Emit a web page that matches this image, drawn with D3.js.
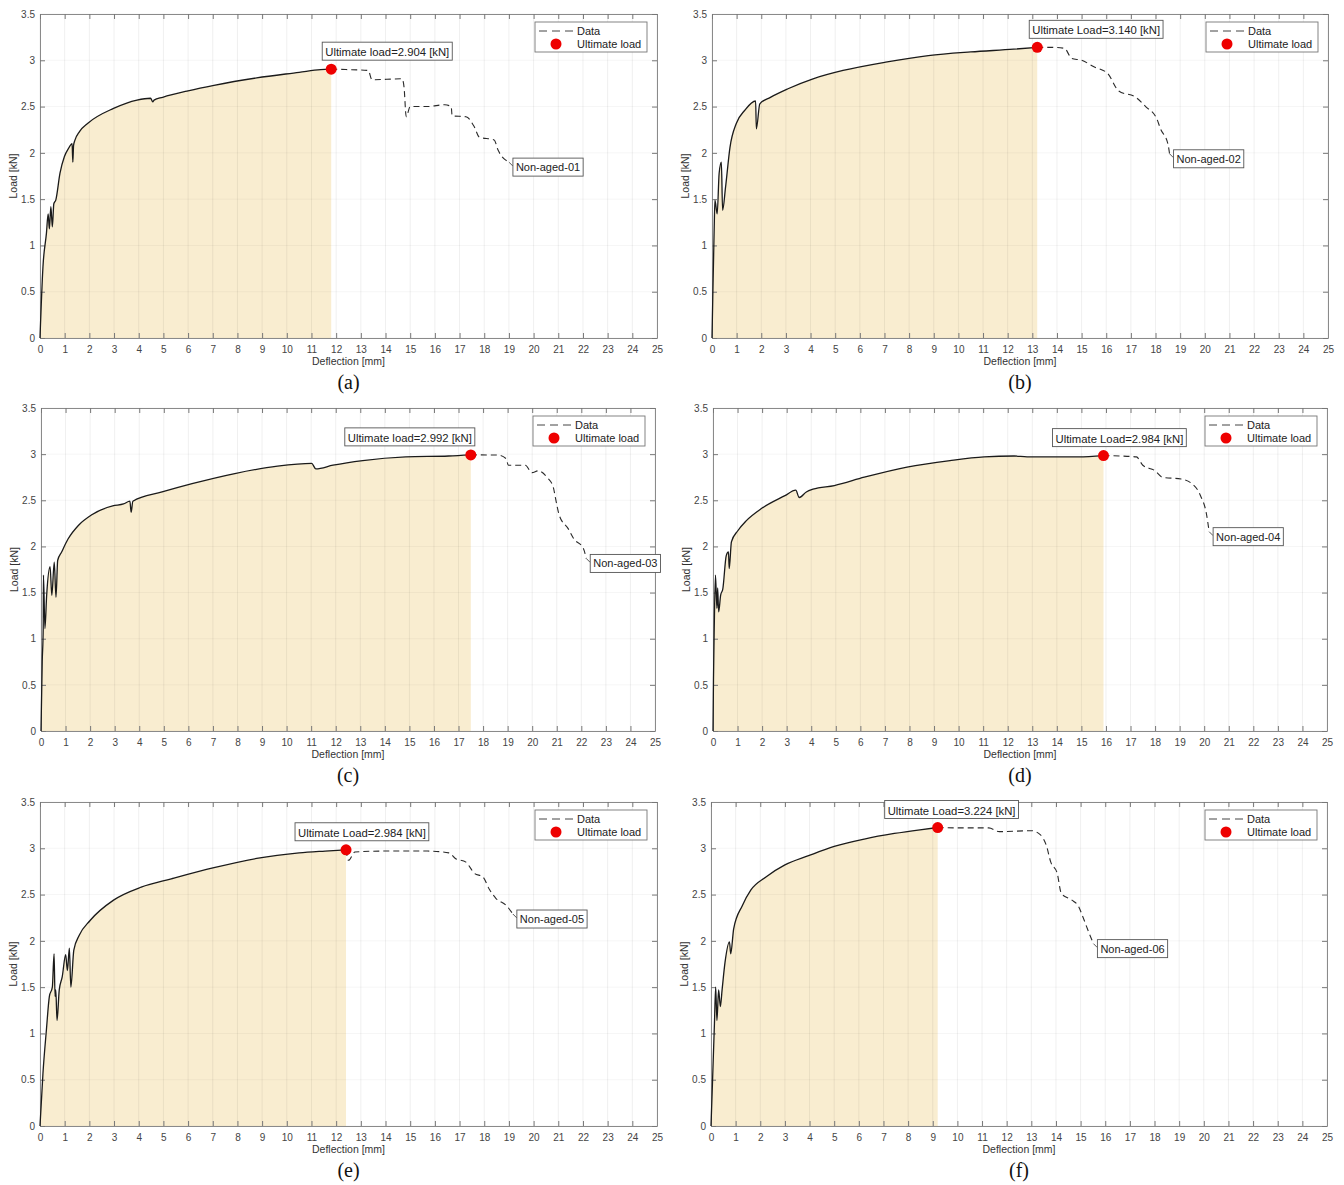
<!DOCTYPE html>
<html><head><meta charset="utf-8">
<script src="https://cdn.jsdelivr.net/npm/d3@7"></script>
<style>body{margin:0;background:#fff}svg{display:block}</style>
</head><body>
<script>
// ---------------- DATA ----------------
const panelLetters = ["(a)", "(b)", "(c)", "(d)", "(e)", "(f)"];
const specimenNames = ["Non-aged-01", "Non-aged-02", "Non-aged-03", "Non-aged-04", "Non-aged-05", "Non-aged-06"];
const ultimateDeflection = [11.8, 13.2, 17.5, 15.9, 12.4, 9.2];
const ultimateLoad = [2.904, 3.140, 2.992, 2.984, 2.984, 3.224];
const ultimateLabels = ["Ultimate load=2.904 [kN]", "Ultimate Load=3.140 [kN]", "Ultimate load=2.992 [kN]",
                        "Ultimate Load=2.984 [kN]", "Ultimate Load=2.984 [kN]", "Ultimate Load=3.224 [kN]"];
const xTickLabels = ["0","1","2","3","4","5","6","7","8","9","10","11","12","13","14","15","16","17","18","19","20","21","22","23","24","25"];
const yTickLabels = ["0","0.5","1","1.5","2","2.5","3","3.5"];
const legendLabels = ["Data", "Ultimate load"];

const deflection01 = [0, 0.12, 0.26, 0.33, 0.38, 0.44, 0.5, 0.56, 0.64, 0.81, 0.99, 1.16, 1.3, 1.33, 1.36, 1.42, 1.6, 1.94, 2.98, 3.93, 4.48, 4.57, 4.62, 4.97, 6.0, 7.05, 8.78, 10.5, 11.37, 11.8,
  12.4, 13.3, 13.45, 14.67, 14.75, 14.84, 15.0, 15.7, 16.4, 16.66, 16.7, 17.26, 17.6, 17.8, 18.4, 18.56, 19.0];
const load01 = [0, 0.77, 1.13, 1.34, 1.18, 1.42, 1.2, 1.45, 1.49, 1.78, 1.96, 2.05, 2.1, 1.9, 2.08, 2.14, 2.23, 2.32, 2.48, 2.57, 2.59, 2.55, 2.57, 2.6, 2.67, 2.73, 2.81, 2.87, 2.9, 2.904,
  2.9, 2.89, 2.79, 2.8, 2.71, 2.39, 2.5, 2.5, 2.52, 2.5, 2.4, 2.39, 2.28, 2.17, 2.14, 2.03, 1.9];

const deflection02 = [0, 0.03, 0.09, 0.12, 0.21, 0.29, 0.38, 0.43, 0.55, 0.73, 0.99, 1.33, 1.77, 1.8, 1.94, 2.37, 3.06, 4.1, 5.32, 7.05, 8.78, 10.5, 12.24, 13.2,
  13.8, 14.3, 14.6, 15.0, 15.5, 16.05, 16.5, 17.2, 17.6, 18.05, 18.2, 18.5, 18.57];
const load02 = [0, 0.41, 1.2, 1.49, 1.34, 1.78, 1.9, 1.38, 1.63, 2.06, 2.32, 2.46, 2.56, 2.26, 2.53, 2.6, 2.69, 2.8, 2.89, 2.98, 3.05, 3.09, 3.12, 3.14,
  3.14, 3.13, 3.02, 3.0, 2.93, 2.86, 2.67, 2.6, 2.5, 2.37, 2.26, 2.1, 1.99];

const deflection03 = [0, 0.05, 0.09, 0.1, 0.16, 0.23, 0.37, 0.44, 0.54, 0.61, 0.68, 0.84, 1.1, 1.53, 2.05, 2.92, 3.36, 3.62, 3.67, 3.74, 4.93, 6.15, 7.89, 9.63, 11.02, 11.19, 11.89, 13.1, 14.85, 16.6, 17.5,
  18.6, 18.94, 19.03, 19.72, 19.99, 20.25, 20.6, 20.86, 20.95, 21.1, 21.47, 21.7, 22.08, 22.2];
const load03 = [0, 0.75, 1.11, 1.69, 1.11, 1.47, 1.78, 1.47, 1.83, 1.45, 1.85, 1.94, 2.08, 2.23, 2.34, 2.44, 2.46, 2.49, 2.37, 2.49, 2.59, 2.68, 2.79, 2.87, 2.9, 2.84, 2.88, 2.93, 2.97, 2.98, 2.992,
  2.99, 2.95, 2.88, 2.88, 2.8, 2.82, 2.75, 2.64, 2.52, 2.34, 2.19, 2.08, 1.98, 1.87];

const deflection04 = [0, 0.02, 0.05, 0.1, 0.16, 0.19, 0.23, 0.31, 0.4, 0.54, 0.63, 0.66, 0.75, 1.01, 1.36, 1.97, 2.93, 3.37, 3.51, 3.8, 4.07, 4.94, 6.16, 7.9, 9.65, 11.04, 12.26, 12.79, 14.88, 15.9,
  16.6, 17.24, 17.5, 18.0, 18.3, 19.06, 19.5, 19.85, 20.1, 20.2];
const load04 = [0, 0.57, 1.11, 1.69, 1.33, 1.55, 1.29, 1.47, 1.54, 1.9, 1.94, 1.76, 2.05, 2.17, 2.28, 2.41, 2.55, 2.61, 2.53, 2.59, 2.62, 2.66, 2.75, 2.86, 2.93, 2.97, 2.98, 2.97, 2.97, 2.984,
  2.98, 2.97, 2.88, 2.82, 2.75, 2.73, 2.68, 2.55, 2.34, 2.16];

const deflection05 = [0, 0.12, 0.26, 0.38, 0.5, 0.57, 0.61, 0.64, 0.69, 0.78, 0.9, 1.04, 1.11, 1.19, 1.25, 1.37, 1.59, 2.03, 2.98, 4.1, 5.32, 7.05, 8.78, 10.5, 11.55, 12.4,
  12.5, 12.76, 13.97, 15.7, 16.57, 16.83, 17.26, 17.6, 17.95, 18.2, 18.47, 18.9, 19.16];
const load05 = [0, 0.57, 1.04, 1.4, 1.5, 1.86, 1.4, 1.47, 1.14, 1.47, 1.61, 1.85, 1.68, 1.92, 1.5, 1.9, 2.06, 2.22, 2.44, 2.58, 2.67, 2.79, 2.89, 2.95, 2.97, 2.984,
  2.87, 2.96, 2.97, 2.97, 2.95, 2.89, 2.85, 2.73, 2.69, 2.56, 2.46, 2.38, 2.29];

const deflection06 = [0, 0.05, 0.14, 0.19, 0.24, 0.31, 0.38, 0.45, 0.57, 0.75, 0.8, 0.92, 1.27, 1.62, 2.23, 3.0, 3.96, 5.0, 6.22, 7.44, 8.48, 9.2,
  10.2, 11.27, 11.7, 13.0, 13.35, 13.61, 13.79, 14.05, 14.22, 14.65, 14.92, 15.09, 15.35, 15.52];
const load06 = [0, 0.39, 1.11, 1.5, 1.14, 1.47, 1.29, 1.47, 1.77, 1.99, 1.86, 2.13, 2.38, 2.55, 2.69, 2.82, 2.92, 3.02, 3.1, 3.16, 3.2, 3.224,
  3.22, 3.22, 3.18, 3.19, 3.15, 3.03, 2.85, 2.73, 2.51, 2.44, 2.37, 2.26, 2.08, 1.97];

const deflections = [deflection01, deflection02, deflection03, deflection04, deflection05, deflection06];
const loads = [load01, load02, load03, load04, load05, load06];

// ---------------- LAYOUT (style only) ----------------
const W = 1344, H = 1185;
const frames = [
  {left: 40, right: 657, top: 14, bottom: 338, annDx: -9},
  {left: 712, right: 1328, top: 14, bottom: 338, annDx: -8},
  {left: 41, right: 655, top: 408, bottom: 731, annDx: -126},
  {left: 713, right: 1327, top: 408, bottom: 731, annDx: -51},
  {left: 40, right: 657, top: 802, bottom: 1126, annDx: -51},
  {left: 711, right: 1327, top: 802, bottom: 1126, annDx: -53}
];
const FONT = "'Liberation Sans', Arial, sans-serif";
const fillColor = "#f9edd0";

const svg = d3.select("body").append("svg").attr("width", W).attr("height", H)
  .style("font-family", FONT);

frames.forEach((f, i) => {
  const g = svg.append("g");
  const xTicks = xTickLabels.map(Number);
  const yTicks = yTickLabels.map(Number);
  const x = d3.scaleLinear().domain([0, 25]).range([f.left, f.right]);
  const y = d3.scaleLinear().domain([0, 3.5]).range([f.bottom, f.top]);
  const pts = deflections[i].map((d, j) => [d, loads[i][j]]);
  const ux = ultimateDeflection[i], uy = ultimateLoad[i];
  const pre = pts.filter(p => p[0] <= ux + 1e-9);
  const post = pts.filter(p => p[0] >= ux - 1e-9);

  // fill under pre-peak curve
  g.append("path").datum(pre)
    .attr("d", d3.area().curve(d3.curveMonotoneX).x(p => x(p[0])).y0(y(0)).y1(p => y(p[1])))
    .attr("fill", fillColor);

  // grid
  g.append("g").selectAll("line").data(xTicks).join("line")
    .attr("x1", d => x(d)).attr("x2", d => x(d)).attr("y1", f.top).attr("y2", f.bottom)
    .attr("stroke", "#000").attr("stroke-opacity", 0.09).attr("stroke-width", 0.7);
  g.append("g").selectAll("line").data(yTicks).join("line")
    .attr("y1", d => y(d)).attr("y2", d => y(d)).attr("x1", f.left).attr("x2", f.right)
    .attr("stroke", "#000").attr("stroke-opacity", 0.06).attr("stroke-width", 0.7);

  // axes
  const styleAxis = sel => {
    sel.selectAll(".domain").attr("stroke", "#8a8a8a");
    sel.selectAll(".tick line").attr("stroke", "#777");
    sel.selectAll("text").attr("fill", "#444").style("font-size", "10px").style("font-family", FONT);
  };
  g.append("g").attr("transform", `translate(0,${f.bottom})`)
    .call(d3.axisBottom(x).tickValues(xTicks).tickFormat((d, k) => xTickLabels[k]).tickSizeInner(-5).tickSizeOuter(0).tickPadding(8))
    .call(styleAxis);
  g.append("g").attr("transform", `translate(${f.left},0)`)
    .call(d3.axisLeft(y).tickValues(yTicks).tickFormat((d, k) => yTickLabels[k]).tickSizeInner(-5).tickSizeOuter(0).tickPadding(5))
    .call(styleAxis);
  g.append("g").attr("transform", `translate(0,${f.top})`)
    .call(d3.axisTop(x).tickValues(xTicks).tickFormat("").tickSizeInner(-5).tickSizeOuter(0))
    .call(styleAxis);
  g.append("g").attr("transform", `translate(${f.right},0)`)
    .call(d3.axisRight(y).tickValues(yTicks).tickFormat("").tickSizeInner(-5).tickSizeOuter(0))
    .call(styleAxis);

  // curves
  const line = d3.line().curve(d3.curveMonotoneX).x(p => x(p[0])).y(p => y(p[1]));
  g.append("path").datum(pre).attr("d", line).attr("fill", "none")
    .attr("stroke", "#1a1a1a").attr("stroke-width", 1.3).attr("stroke-linejoin", "round");
  g.append("path").datum(post).attr("d", line).attr("fill", "none")
    .attr("stroke", "#2a2a2a").attr("stroke-width", 1.1).attr("stroke-dasharray", "6,4");

  // ultimate marker
  const px = x(ux), py = y(uy);
  g.append("circle").attr("cx", px).attr("cy", py).attr("r", 5.5).attr("fill", "#ee0000");

  // annotation box
  const ann = g.append("g");
  const annText = ann.append("text").text(ultimateLabels[i])
    .attr("font-size", 11.3).attr("fill", "#222").attr("x", px + f.annDx + 3).attr("y", py - 13);
  const bb = annText.node().getBBox();
  ann.insert("rect", "text").attr("x", bb.x - 3).attr("y", py - 27).attr("width", bb.width + 6).attr("height", 18)
    .attr("fill", "#fff").attr("stroke", "#555").attr("stroke-width", 0.9);

  // specimen label box at curve end
  const last = pts[pts.length - 1];
  const lx = x(last[0]), ly = y(last[1]);
  g.append("line").attr("x1", lx).attr("y1", ly).attr("x2", lx + 4).attr("y2", ly + 4)
    .attr("stroke", "#444").attr("stroke-width", 0.9);
  const lab = g.append("g");
  const labText = lab.append("text").text(specimenNames[i]).attr("font-size", 11).attr("fill", "#222")
    .attr("x", lx + 7).attr("y", ly + 9);
  const lb = labText.node().getBBox();
  lab.insert("rect", "text").attr("x", lx + 4).attr("y", ly - 4).attr("width", lb.width + 6).attr("height", 18)
    .attr("fill", "#fff").attr("stroke", "#555").attr("stroke-width", 0.9);

  // legend
  const lgW = 112, lgH = 30;
  const lgX = f.right - 10 - lgW, lgY = f.top + 8;
  const lg = g.append("g").attr("transform", `translate(${lgX},${lgY})`);
  lg.append("rect").attr("width", lgW).attr("height", lgH).attr("fill", "#fff").attr("stroke", "#777").attr("stroke-width", 0.9);
  lg.append("line").attr("x1", 4).attr("x2", 38).attr("y1", 9).attr("y2", 9)
    .attr("stroke", "#444").attr("stroke-width", 1).attr("stroke-dasharray", "8,5");
  lg.append("text").text(legendLabels[0]).attr("x", 42).attr("y", 13).attr("font-size", 11).attr("fill", "#222");
  lg.append("circle").attr("cx", 21).attr("cy", 22).attr("r", 5.5).attr("fill", "#ee0000");
  lg.append("text").text(legendLabels[1]).attr("x", 42).attr("y", 26).attr("font-size", 11).attr("fill", "#222");

  // axis titles
  const cx = (f.left + f.right) / 2;
  g.append("text").text("Deflection [mm]").attr("x", cx).attr("y", f.bottom + 27)
    .attr("text-anchor", "middle").attr("font-size", 10.5).attr("fill", "#333");
  g.append("text").text("Load [kN]")
    .attr("transform", `translate(${f.left - 23},${(f.top + f.bottom) / 2}) rotate(-90)`)
    .attr("text-anchor", "middle").attr("font-size", 10.5).attr("fill", "#333");
  g.append("text").text(panelLetters[i]).attr("x", cx).attr("y", f.bottom + 51)
    .attr("text-anchor", "middle").attr("font-size", 20).attr("fill", "#111")
    .style("font-family", "'Liberation Serif', 'Times New Roman', serif");
});
</script>
</body></html>
